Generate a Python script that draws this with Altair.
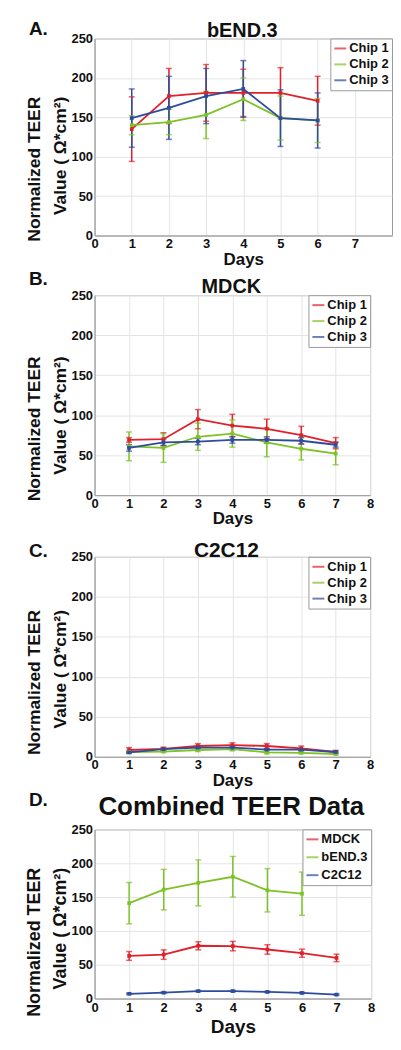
import altair as alt
import pandas as pd

# ---------------- data ----------------
DAYS_6 = [1, 2, 3, 4, 5, 6]
DAYS_7 = [1, 2, 3, 4, 5, 6, 7]
CHIPS = ["Chip 1", "Chip 2", "Chip 3"]

A_CHIP1 = [135, 177, 181, 181, 181, 171]
A_CHIP1_ERR = [41, 35, 36, 30, 32, 31]
A_CHIP2 = [140, 144, 153, 173, 149, 146]
A_CHIP2_ERR = [12, 16, 30, 27, 28, 28]
A_CHIP3 = [149, 162, 177, 186, 149, 146]
A_CHIP3_ERR = [37, 40, 35, 36, 36, 35]

B_CHIP1 = [69, 70, 95, 87, 83, 75, 65]
B_CHIP1_ERR = [3, 8, 12, 14, 12, 11, 7]
B_CHIP2 = [61, 59, 73, 77, 66, 58, 52]
B_CHIP2_ERR = [18, 18, 17, 17, 18, 14, 14]
B_CHIP3 = [59, 66, 67, 69, 69, 68, 63]
B_CHIP3_ERR = [4, 4, 4, 4, 4, 4, 3]

C_CHIP1 = [8.5, 10, 13.5, 14.5, 13.5, 10.5, 6]
C_CHIP1_ERR = [3, 2, 3, 3, 3, 3, 2]
C_CHIP2 = [6, 6.5, 8.5, 9.5, 5.5, 5, 3.5]
C_CHIP2_ERR = [2, 1, 2, 2, 2, 1, 1]
C_CHIP3 = [5.5, 9.5, 11.5, 11.5, 9, 9, 6]
C_CHIP3_ERR = [1, 1, 1, 1, 1, 1, 1]

D_NAMES = ["MDCK", "bEND.3", "C2C12"]
D_MDCK = [63, 65, 78, 77.5, 72.5, 67, 60]
D_MDCK_ERR = [6.5, 7, 6, 7, 7, 6, 5.5]
D_BEND = [141, 161, 171, 180, 160, 155]
D_BEND_ERR = [30.5, 30, 34, 30, 32, 32]
D_C2C12 = [7, 8.7, 11, 11, 9.8, 8.3, 5.8]
D_C2C12_ERR = [1, 1, 1, 1, 1, 1, 1]

Y_TICKS = [0, 50, 100, 150, 200, 250]
X_TICKS_A = [0, 1, 2, 3, 4, 5, 6, 7]
X_TICKS = [0, 1, 2, 3, 4, 5, 6, 7, 8]

PANEL_TITLES = ["bEND.3", "MDCK", "C2C12", "Combined TEER Data"]
PANEL_LETTERS = ["A.", "B.", "C.", "D."]

RED = "#e0212b"
GREEN = "#7dc226"
BLUE = "#2d4c9e"
FONT = "Liberation Sans"
Y_TITLE = ["Normalized TEER", "Value ( \u03a9*cm\u00b2)"]
LEFT = 86


def long_df(series):
    rows = []
    for name, days, means, errs in series:
        for d, v, e in zip(days, means, errs):
            rows.append({"day": d, "value": v, "lo": v - e, "hi": v + e, "series": name})
    return pd.DataFrame(rows)


def text_layer(text, size, x, y, align):
    tdf = pd.DataFrame({"t": [text]})
    return alt.Chart(tdf).mark_text(font=FONT, fontSize=size, fontWeight="bold",
                                    align=align, baseline="alphabetic",
                                    color="#111").encode(
        text="t:N", x=alt.value(x), y=alt.value(y))


def panel(df, names, width, height, top, bottom, xticks, ytitle_size, ytitle_y,
          days_size, days_pad, label_pad, legend_row, texts):
    xs = alt.Scale(domain=[0, 8], nice=False)
    ys = alt.Scale(domain=[0, 250], nice=False)
    xaxis = alt.Axis(values=xticks, title="Days", grid=True, gridColor="#e4e4e4",
                     ticks=False, labelPadding=label_pad, labelFont=FONT,
                     labelFontSize=13, labelFontWeight="bold", labelColor="#111",
                     labelFlush=False, titleFont=FONT, titleFontSize=days_size,
                     titleFontWeight="bold", titleColor="#111",
                     titlePadding=days_pad, domainColor="#9a9a9a", format="d")
    yaxis = alt.Axis(values=Y_TICKS, title=Y_TITLE, grid=True, gridColor="#e4e4e4",
                     ticks=False, labelPadding=2, labelFont=FONT, labelFontSize=13,
                     labelFontWeight="bold", labelColor="#111", titleFont=FONT,
                     titleFontSize=ytitle_size, titleFontWeight="bold",
                     titleColor="#111", titlePadding=2, titleLineHeight=26,
                     titleAlign="right", titleY=ytitle_y,
                     domainColor="#9a9a9a", labelFlush=False)
    cscale = alt.Scale(domain=names, range=[RED, GREEN, BLUE])
    legend = alt.Legend(title=None, orient="top-right", offset=0, symbolType="stroke",
                        symbolSize=144, symbolStrokeWidth=2, labelFont=FONT,
                        labelFontSize=13, labelFontWeight="bold",
                        labelColor="#111", strokeColor="#9a9a9a", fillColor="white",
                        padding=3, rowPadding=legend_row, labelOffset=2)
    col = alt.Color("series:N", scale=cscale, legend=legend)
    X = alt.X("day:Q", scale=xs, axis=xaxis)
    base = alt.Chart(df)
    line = base.mark_line(strokeWidth=1.8).encode(
        x=X, y=alt.Y("value:Q", scale=ys, axis=yaxis), color=col)
    bars = base.mark_rule(strokeWidth=1.5).encode(
        x=X, y=alt.Y("lo:Q", scale=ys, axis=yaxis), y2="hi:Q", color=col)
    cap_lo = base.mark_tick(orient="horizontal", size=6, thickness=1.5).encode(
        x=X, y=alt.Y("lo:Q", scale=ys, axis=yaxis), color=col)
    cap_hi = base.mark_tick(orient="horizontal", size=6, thickness=1.5).encode(
        x=X, y=alt.Y("hi:Q", scale=ys, axis=yaxis), color=col)
    pts = base.mark_point(shape="square", filled=True, size=14, opacity=1).encode(
        x=X, y=alt.Y("value:Q", scale=ys, axis=yaxis), color=col)
    frame = alt.Chart(pd.DataFrame({"f": [0]})).mark_rule(
        opacity=0, strokeWidth=1).encode(
        x=alt.value(-LEFT), y=alt.value(-top), y2=alt.value(height + bottom))
    layers = [frame, bars, cap_lo, cap_hi, line, pts]
    layers += [text_layer(*t) for t in texts]
    return alt.layer(*layers).properties(width=width, height=height)


df_a = long_df([
    ("Chip 1", DAYS_6, A_CHIP1, A_CHIP1_ERR),
    ("Chip 2", DAYS_6, A_CHIP2, A_CHIP2_ERR),
    ("Chip 3", DAYS_6, A_CHIP3, A_CHIP3_ERR),
])
df_b = long_df([
    ("Chip 1", DAYS_7, B_CHIP1, B_CHIP1_ERR),
    ("Chip 2", DAYS_7, B_CHIP2, B_CHIP2_ERR),
    ("Chip 3", DAYS_7, B_CHIP3, B_CHIP3_ERR),
])
df_c = long_df([
    ("Chip 1", DAYS_7, C_CHIP1, C_CHIP1_ERR),
    ("Chip 2", DAYS_7, C_CHIP2, C_CHIP2_ERR),
    ("Chip 3", DAYS_7, C_CHIP3, C_CHIP3_ERR),
])
df_d = long_df([
    ("MDCK", DAYS_7, D_MDCK, D_MDCK_ERR),
    ("bEND.3", DAYS_6, D_BEND, D_BEND_ERR),
    ("C2C12", DAYS_7, D_C2C12, D_C2C12_ERR),
])

# plot origin x = 8 + LEFT = 94 for every panel
pa = panel(df_a, CHIPS, 299, 198, 27, 33, X_TICKS_A, 17.5, 58, 17, 1, 2, 2, [
    (PANEL_TITLES[0], 20, 299 / 2 - 1, -2, "center"),
    (PANEL_LETTERS[0], 19, -66, -4, "left"),
])
pb = panel(df_b, CHIPS, 277, 201, 25, 33, X_TICKS, 17.5, 61, 17, 1, 2, 2, [
    (PANEL_TITLES[1], 20, 277 / 2 - 1, -2, "center"),
    (PANEL_LETTERS[1], 19, -66, -10, "left"),
])
# the combined panel's heading is drawn below panel C so all panels share one top band
pc = panel(df_c, CHIPS, 277, 201, 27, 65, X_TICKS, 17.5, 53, 17, 1, 2, 2, [
    (PANEL_TITLES[2], 21, 277 / 2 - 6, 0, "center"),
    (PANEL_LETTERS[2], 19, -66, 0, "left"),
    (PANEL_TITLES[3], 26, 277 / 2 - 1, 260, "center"),
    (PANEL_LETTERS[3], 19, -66, 250, "left"),
])
pd_ = panel(df_d, D_NAMES, 278, 170, 6, 37, X_TICKS, 18, 38, 19, 3, 3, 4, [])

chart = alt.concat(pa, pb, pc, pd_, columns=1, spacing=0).resolve_scale(
    color="independent").resolve_legend(color="independent").configure_view(
    stroke="#9a9a9a", strokeWidth=1).properties(padding=0)

chart.save("out.html", embed_options={"renderer": "svg", "actions": False})
